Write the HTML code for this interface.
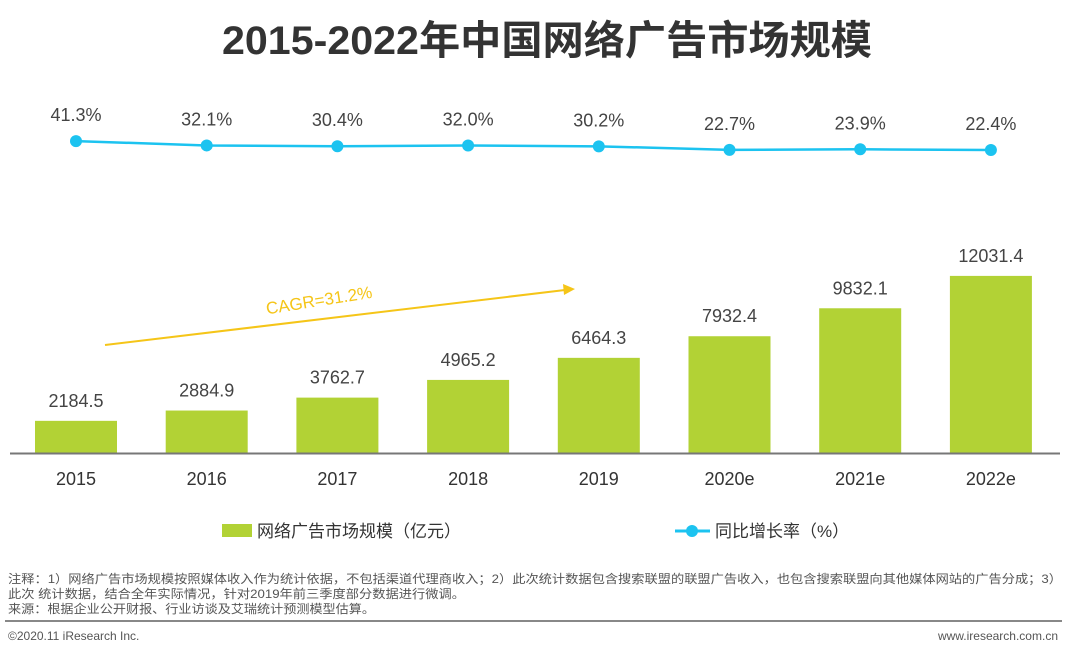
<!DOCTYPE html>
<html><head><meta charset="utf-8"><style>
body{margin:0;width:1080px;height:655px;background:#fff;overflow:hidden;font-family:"Liberation Sans","Noto Sans CJK SC",sans-serif;}
</style></head><body>
<svg width="1080" height="655" xmlns="http://www.w3.org/2000/svg" font-family="Liberation Sans, Noto Sans CJK SC, sans-serif">
<text x="547" y="54" text-anchor="middle" font-size="40" font-weight="bold" fill="#333" textLength="650" lengthAdjust="spacingAndGlyphs">2015-2022年中国网络广告市场规模</text>
<g id="bars"></g>
<g id="line"></g>
<line x1="10" y1="453.5" x2="1060" y2="453.5" stroke="#777" stroke-width="2"/>
<g>
<line x1="105" y1="345" x2="565" y2="290" stroke="#f5c518" stroke-width="2"/>
<polygon points="575,289 563,284 564,295" fill="#f5c518"/>
<text x="320" y="306" font-size="17" fill="#f5c518" transform="rotate(-9 320 306)" text-anchor="middle">CAGR=31.2%</text>
</g>
<g><rect x="222" y="524" width="30" height="13" fill="#b2d235"/><text x="257" y="537" font-size="17" fill="#333">网络广告市场规模（亿元）</text></g>
<g><line x1="675" y1="531" x2="710" y2="531" stroke="#1cc3f0" stroke-width="3"/><circle cx="692" cy="531" r="6" fill="#1cc3f0"/><text x="715" y="537" font-size="17" fill="#333">同比增长率（%）</text></g>
<g font-size="12" fill="#555">
<text x="8" y="583" textLength="1054" lengthAdjust="spacingAndGlyphs">注释：1）网络广告市场规模按照媒体收入作为统计依据，不包括渠道代理商收入；2）此次统计数据包含搜索联盟的联盟广告收入，也包含搜索联盟向其他媒体网站的广告分成；3）</text>
<text x="8" y="598" textLength="457" lengthAdjust="spacingAndGlyphs">此次 统计数据，结合全年实际情况，针对2019年前三季度部分数据进行微调。</text>
<text x="8" y="613" textLength="367" lengthAdjust="spacingAndGlyphs">来源：根据企业公开财报、行业访谈及艾瑞统计预测模型估算。</text>
</g>
<line x1="5" y1="621" x2="1062" y2="621" stroke="#888" stroke-width="2"/>
<text x="8" y="640" font-size="12" fill="#555">©2020.11 iResearch Inc.</text>
<text x="1058" y="640" font-size="12" fill="#555" text-anchor="end">www.iresearch.com.cn</text>
</svg>
<script>
const categories=["2015","2016","2017","2018","2019","2020e","2021e","2022e"];
const barValues=[2184.5,2884.9,3762.7,4965.2,6464.3,7932.4,9832.1,12031.4];
const rateValues=[41.3,32.1,30.4,32.0,30.2,22.7,23.9,22.4];
const NS="http://www.w3.org/2000/svg";
function xPos(i){return 76+i*130.7;}
function yBar(v){return 453-v*0.01472;}
function yRate(v){return 150-(v-22.4)*0.47;}
function mk(t,a,p){const e=document.createElementNS(NS,t);for(const k in a)e.setAttribute(k,a[k]);p.appendChild(e);return e;}
const gb=document.getElementById('bars'),gl=document.getElementById('line');
categories.forEach((c,i)=>{
 const x=xPos(i),y=yBar(barValues[i]);
 const r=mk('rect',{x:x-41,y:y,width:82,height:453-y,fill:'#b2d235'},gb);
 
 
 const t=mk('text',{x:x,y:y-14,'text-anchor':'middle','font-size':18,fill:'#444'},gb);t.textContent=barValues[i].toFixed(1);
 
 
 const xl=mk('text',{x:x,y:485,'text-anchor':'middle','font-size':18,fill:'#333'},gb);xl.textContent=c;
 
 
});
const pts=rateValues.map((v,i)=>xPos(i)+','+yRate(v)).join(' ');
const pl=mk('polyline',{points:pts,fill:'none',stroke:'#1cc3f0','stroke-width':2.5},gl);


rateValues.forEach((v,i)=>{
 const c=mk('circle',{cx:xPos(i),cy:yRate(v),r:6,fill:'#1cc3f0'},gl);
 
 
 const t=mk('text',{x:xPos(i),y:yRate(v)-20,'text-anchor':'middle','font-size':18,fill:'#444'},gl);t.textContent=v.toFixed(1)+'%';
 
 
});
</script>
</body></html>
